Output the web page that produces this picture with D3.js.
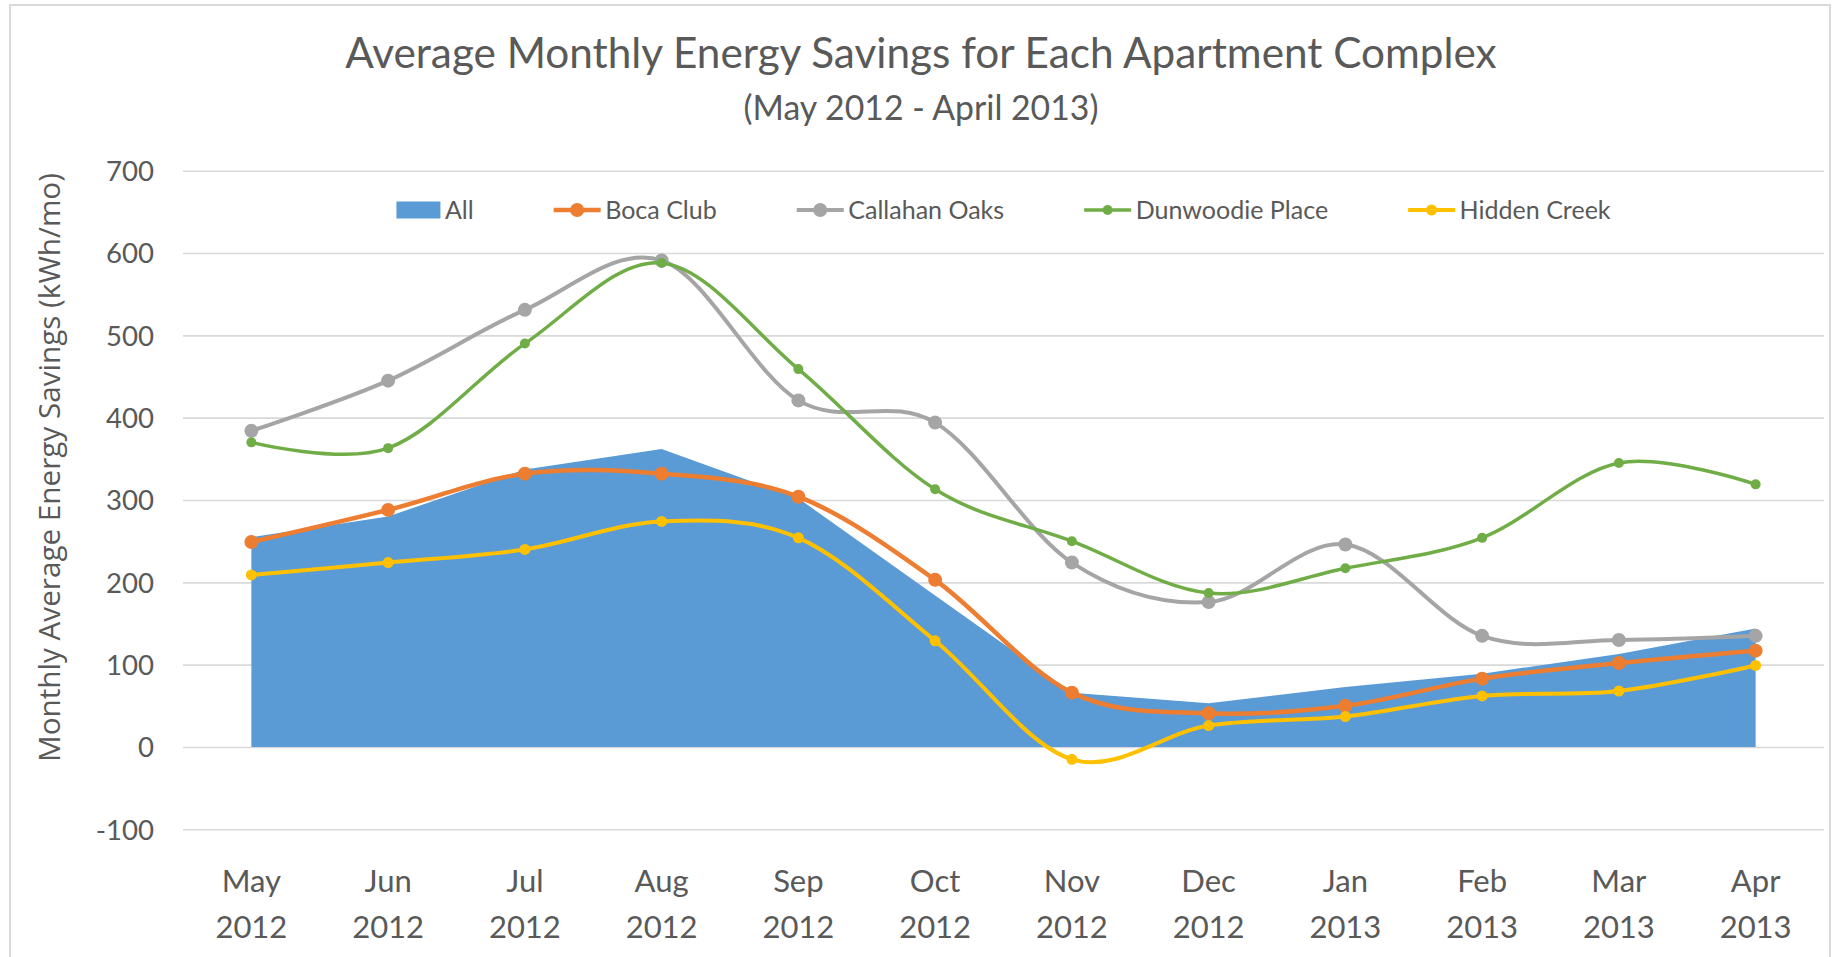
<!DOCTYPE html>
<html>
<head>
<meta charset="utf-8">
<script src="https://cdn.jsdelivr.net/npm/d3@7"></script>
<style>
  html, body { margin: 0; padding: 0; background: #fff; }
  svg { display: block; }
  text { fill: #595959; }
</style>
</head>
<body>
<svg id="chart" width="1833" height="957"></svg>
<script>
// ---------- data ----------
const months = ["May", "Jun", "Jul", "Aug", "Sep", "Oct", "Nov", "Dec", "Jan", "Feb", "Mar", "Apr"];
const years  = ["2012", "2012", "2012", "2012", "2012", "2012", "2012", "2012", "2013", "2013", "2013", "2013"];
const allValues       = [255, 280, 337, 362, 302, 184, 66, 53, 73, 89, 113, 144];
const bocaClub        = [249, 288, 332, 332, 304, 203, 66, 41, 50, 83, 102, 117];
const callahanOaks    = [384, 445, 531, 591, 421, 394, 224, 176, 246, 135, 130, 135];
const dunwoodiePlace  = [370, 363, 490, 588, 459, 313, 250, 187, 217, 254, 345, 319];
const hiddenCreek     = [209, 224, 240, 274, 254, 129, -15, 26, 37, 62, 68, 99];
const yTicks = [-100, 0, 100, 200, 300, 400, 500, 600, 700];
const titleText = "Average Monthly Energy Savings for Each Apartment Complex";
const subtitleText = "(May 2012 - April 2013)";
const yTitleText = "Monthly Average Energy Savings (kWh/mo)";

const lineSeries = [
  { name: "Boca Club",       values: bocaClub,       color: "#ed7d31", width: 4.5, r: 7 },
  { name: "Callahan Oaks",   values: callahanOaks,   color: "#a5a5a5", width: 4,   r: 7 },
  { name: "Dunwoodie Place", values: dunwoodiePlace, color: "#70ad47", width: 3.5, r: 5 },
  { name: "Hidden Creek",    values: hiddenCreek,    color: "#ffc000", width: 4,   r: 5.5 }
];
const areaSeries = { name: "All", values: allValues, color: "#5b9bd5" };

// ---------- layout ----------
const plot = { left: 183, right: 1824, top: 170.7, bottom: 829.3 };
const FONT = "Lato, 'Open Sans', sans-serif";
const svg = d3.select("#chart");

// chart border
svg.append("rect").attr("x", 10).attr("y", 5).attr("width", 1820).attr("height", 960)
  .attr("fill", "none").attr("stroke", "#d9d9d9").attr("stroke-width", 2);

const cats = months.map((m, i) => i);
const x = d3.scaleBand().domain(cats).range([plot.left, plot.right]).padding(0);
const cx = i => x(i) + x.bandwidth() / 2;
const y = d3.scaleLinear().domain([-100, 700]).range([plot.bottom, plot.top]);

function fit(sel, target) {
  sel.style("font-size", "100px");
  const w = sel.node().getComputedTextLength();
  const fs = 100 * target / w;
  sel.style("font-size", fs + "px");
  return fs;
}
function measureSize(family, txt, target) {
  const t = svg.append("text").attr("font-family", family).text(txt);
  const fs = fit(t, target);
  t.remove();
  return fs;
}

// ---------- gridlines + y axis ----------
const yAxis = d3.axisLeft(y).tickValues(yTicks).tickFormat(d => String(d))
  .tickSize(-(plot.right - plot.left)).tickPadding(29);
const gy = svg.append("g").attr("transform", `translate(${plot.left},0)`).call(yAxis);
gy.select(".domain").remove();
gy.selectAll(".tick line").attr("stroke", "#d9d9d9").attr("stroke-width", 1.6);
const yFs = measureSize(FONT, "700", 48);
gy.selectAll(".tick text").attr("font-family", FONT).style("font-size", yFs + "px")
  .attr("fill", "#595959").attr("dy", "0.36em");

// ---------- x axis labels ----------
const xAxis = d3.axisBottom(x).tickSize(0).tickFormat(() => "");
const gx = svg.append("g").attr("transform", `translate(0,${plot.bottom})`).call(xAxis);
gx.select(".domain").remove();
gx.selectAll(".tick text").remove();
const xFs = measureSize(FONT, "2012", 72);
gx.selectAll(".tick").each(function (d) {
  const t = d3.select(this).append("text").attr("text-anchor", "middle")
    .attr("font-family", FONT).style("font-size", xFs + "px").attr("fill", "#595959");
  t.append("tspan").attr("x", 0).attr("y", 892 - plot.bottom).text(months[d]);
  t.append("tspan").attr("x", 0).attr("y", 938 - plot.bottom).text(years[d]);
});

// ---------- area ----------
const area = d3.area().x((d, i) => cx(i)).y0(y(0)).y1(d => y(d)).curve(d3.curveLinear);
svg.append("path").datum(areaSeries.values).attr("d", area).attr("fill", areaSeries.color);

// ---------- lines ----------
const line = d3.line().x((d, i) => cx(i)).y(d => y(d)).curve(d3.curveCardinal.tension(0));
lineSeries.forEach(s => {
  const g = svg.append("g");
  g.append("path").datum(s.values).attr("d", line).attr("fill", "none")
    .attr("stroke", s.color).attr("stroke-width", s.width).attr("stroke-linecap", "round");
  g.selectAll("circle").data(s.values).join("circle")
    .attr("cx", (d, i) => cx(i)).attr("cy", d => y(d)).attr("r", s.r).attr("fill", s.color);
});

// ---------- titles ----------
const title = svg.append("text").attr("x", 921).attr("y", 68).attr("text-anchor", "middle")
  .attr("font-family", FONT).style("font-weight", 400).text(titleText);
fit(title, 1152);
const sub = svg.append("text").attr("x", 921).attr("y", 120).attr("text-anchor", "middle")
  .attr("font-family", FONT).style("font-weight", 400).text(subtitleText);
fit(sub, 355);
const yTitle = svg.append("text").attr("transform", "translate(60,467.5) rotate(-90)")
  .attr("text-anchor", "middle").attr("font-family", "'Open Sans', sans-serif").text(yTitleText);
fit(yTitle, 589);

// ---------- legend ----------
const legendItems = [{ name: areaSeries.name, color: areaSeries.color, type: "area" }]
  .concat(lineSeries.map(s => ({ name: s.name, color: s.color, type: "line", r: s.r, width: s.width })));
const lgFs = measureSize(FONT, "Callahan Oaks", 156);
const legend = svg.append("g");
let cursor = 0;
const legendY = 210;
legendItems.forEach((it, k) => {
  const g = legend.append("g").attr("transform", `translate(${cursor},0)`);
  let symW;
  if (it.type === "area") {
    symW = 44;
    g.append("rect").attr("x", 0).attr("y", legendY - 8.5).attr("width", symW).attr("height", 17).attr("fill", it.color);
  } else {
    symW = 47;
    g.append("line").attr("x1", 0).attr("x2", symW).attr("y1", legendY).attr("y2", legendY)
      .attr("stroke", it.color).attr("stroke-width", it.width);
    g.append("circle").attr("cx", symW / 2).attr("cy", legendY).attr("r", it.r).attr("fill", it.color);
  }
  const t = g.append("text").attr("x", symW + 4.5).attr("y", 219).attr("font-family", FONT)
    .style("font-size", lgFs + "px").text(it.name);
  const tw = t.node().getComputedTextLength();
  cursor += symW + 4.5 + tw + (k < legendItems.length - 1 ? 80 : 0);
});
const plotCenter = (plot.left + plot.right) / 2;
legend.attr("transform", `translate(${plotCenter - cursor / 2},0)`);
</script>
</body>
</html>
